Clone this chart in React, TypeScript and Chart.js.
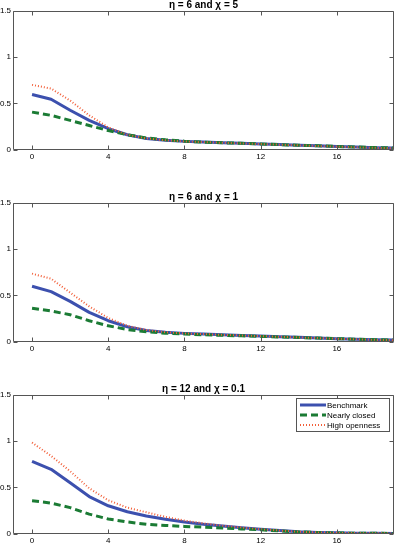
import React, { useEffect, useRef } from "react";
import { Chart, registerables } from "chart.js";

Chart.register(...registerables);

const steps = [0, 1, 2, 3, 4, 5, 6, 7, 8, 9, 10, 11, 12, 13, 14, 15, 16, 17, 18, 19];
const xTickValues = [0, 4, 8, 12, 16];
const yTickValues = [0, 0.5, 1, 1.5];
const panelTitles = ["η = 6 and χ = 5", "η = 6 and χ = 1", "η = 12 and χ = 0.1"];
const seriesNames = ["Benchmark", "Nearly closed", "High openness"];

// Panel 1: eta = 6, chi = 5
const benchmark1 = [0.595, 0.545, 0.425, 0.315, 0.225, 0.16, 0.12, 0.1, 0.088, 0.08, 0.073, 0.067, 0.06, 0.053, 0.046, 0.04, 0.033, 0.026, 0.02, 0.016];
const closed1 = [0.405, 0.37, 0.315, 0.26, 0.205, 0.16, 0.125, 0.105, 0.09, 0.08, 0.073, 0.067, 0.06, 0.053, 0.046, 0.04, 0.033, 0.027, 0.021, 0.017];
const open1 = [0.7, 0.66, 0.53, 0.37, 0.24, 0.16, 0.12, 0.1, 0.087, 0.08, 0.073, 0.066, 0.059, 0.052, 0.045, 0.038, 0.031, 0.024, 0.018, 0.014];

// Panel 2: eta = 6, chi = 1
const benchmark2 = [0.598, 0.54, 0.435, 0.315, 0.225, 0.16, 0.12, 0.1, 0.088, 0.08, 0.073, 0.066, 0.059, 0.052, 0.045, 0.038, 0.031, 0.025, 0.02, 0.015];
const closed2 = [0.36, 0.33, 0.29, 0.225, 0.17, 0.13, 0.105, 0.09, 0.08, 0.073, 0.067, 0.061, 0.055, 0.049, 0.043, 0.037, 0.031, 0.025, 0.02, 0.016];
const open2 = [0.735, 0.68, 0.53, 0.38, 0.255, 0.17, 0.125, 0.1, 0.088, 0.08, 0.072, 0.065, 0.058, 0.051, 0.044, 0.037, 0.03, 0.024, 0.018, 0.014];

// Panel 3: eta = 12, chi = 0.1
const benchmark3 = [0.78, 0.695, 0.55, 0.4, 0.3, 0.235, 0.19, 0.155, 0.125, 0.1, 0.08, 0.062, 0.047, 0.033, 0.02, 0.012, 0.007, 0.004, 0.002, 0.001];
const closed3 = [0.355, 0.33, 0.28, 0.21, 0.157, 0.125, 0.1, 0.087, 0.077, 0.068, 0.06, 0.05, 0.04, 0.028, 0.017, 0.01, 0.005, 0.003, 0.002, 0.001];
const open3 = [0.985, 0.84, 0.675, 0.49, 0.36, 0.28, 0.23, 0.18, 0.14, 0.11, 0.085, 0.065, 0.047, 0.032, 0.02, 0.012, 0.007, 0.004, 0.002, 0.001];

const panelSeries = [
  [benchmark1, closed1, open1],
  [benchmark2, closed2, open2],
  [benchmark3, closed3, open3],
];

const CANVAS_W = 394;
const CANVAS_H = 161;
const panelTops = [0, 192, 384];

const styles = [
  { color: "#3c50ae", width: 3, dash: [] as number[], order: 2 },
  { color: "#1b7b34", width: 3, dash: [7, 4], order: 1 },
  { color: "#f2603a", width: 2, dash: [1, 2], order: 0 },
];

const FONT = "Arial, 'Liberation Sans', sans-serif";

const framePlugin = {
  id: "matlabFrame",
  afterDatasetsDraw(chart: any) {
    const { ctx, chartArea, scales } = chart;
    const l = Math.round(chartArea.left) + 0.5;
    const r = Math.round(chartArea.right) - 0.5;
    const t = Math.round(chartArea.top) + 0.5;
    const b = Math.round(chartArea.bottom) - 0.5;
    ctx.save();
    ctx.strokeStyle = "#555";
    ctx.lineWidth = 1;
    ctx.beginPath();
    ctx.moveTo(l, t);
    ctx.lineTo(r, t);
    ctx.lineTo(r, b);
    ctx.lineTo(l, b);
    ctx.closePath();
    const tl = 4;
    for (const v of xTickValues) {
      const px = Math.round(scales.x.getPixelForValue(v)) + 0.5;
      ctx.moveTo(px, b);
      ctx.lineTo(px, b - tl);
      ctx.moveTo(px, t);
      ctx.lineTo(px, t + tl);
    }
    for (const v of yTickValues) {
      const py = Math.round(scales.y.getPixelForValue(v)) + 0.5;
      ctx.moveTo(l, py);
      ctx.lineTo(l + tl, py);
      ctx.moveTo(r, py);
      ctx.lineTo(r - tl, py);
    }
    ctx.stroke();
    ctx.restore();
  },
};

const titlePlugin = {
  id: "panelTitle",
  afterDraw(chart: any, _args: any, opts: any) {
    const { ctx, chartArea } = chart;
    ctx.save();
    ctx.fillStyle = "#000";
    ctx.font = `bold 10px ${FONT}`;
    ctx.textAlign = "center";
    ctx.textBaseline = "middle";
    ctx.fillText(opts.text, (chartArea.left + chartArea.right) / 2, 5);
    ctx.restore();
  },
};

const legendPlugin = {
  id: "boxLegend",
  afterDraw(chart: any, _args: any, opts: any) {
    if (!opts || !opts.show) return;
    const { ctx, chartArea } = chart;
    const w = 93;
    const h = 33;
    const x0 = Math.round(chartArea.right) - 5 - w;
    const y0 = Math.round(chartArea.top) + 3;
    ctx.save();
    ctx.fillStyle = "#fff";
    ctx.fillRect(x0, y0, w, h);
    ctx.strokeStyle = "#555";
    ctx.lineWidth = 1;
    ctx.strokeRect(x0 + 0.5, y0 + 0.5, w, h);
    chart.data.datasets.forEach((ds: any, i: number) => {
      const yy = y0 + 7 + i * 10;
      ctx.save();
      ctx.strokeStyle = ds.borderColor;
      ctx.lineWidth = ds.borderWidth;
      ctx.setLineDash(ds.borderDash || []);
      ctx.beginPath();
      ctx.moveTo(x0 + 4, yy);
      ctx.lineTo(x0 + 30, yy);
      ctx.stroke();
      ctx.restore();
      ctx.fillStyle = "#000";
      ctx.font = `8px ${FONT}`;
      ctx.textAlign = "left";
      ctx.textBaseline = "middle";
      ctx.fillText(ds.label, x0 + 31, yy + 0.5);
    });
    ctx.restore();
  },
};

function Panel({ index }: { index: number }) {
  const ref = useRef<HTMLCanvasElement | null>(null);
  useEffect(() => {
    if (!ref.current) return;
    const series = panelSeries[index];
    const chart = new Chart(ref.current, {
      type: "line",
      data: {
        datasets: series.map((vals, i) => ({
          label: seriesNames[i],
          data: steps.map((s, k) => ({ x: s, y: vals[k] })),
          borderColor: styles[i].color,
          backgroundColor: styles[i].color,
          borderWidth: styles[i].width,
          borderDash: styles[i].dash,
          borderJoinStyle: "round",
          pointRadius: 0,
          tension: 0,
          fill: false,
          order: styles[i].order,
        })),
      },
      options: {
        responsive: false,
        animation: false,
        devicePixelRatio: 1,
        layout: { padding: { top: 11, left: 0, right: 0, bottom: 0 } },
        plugins: {
          legend: { display: false },
          tooltip: { enabled: false },
          title: { display: false },
          panelTitle: { text: panelTitles[index] },
          boxLegend: { show: index === 2 },
        } as any,
        scales: {
          x: {
            type: "linear",
            min: -1,
            max: 19,
            grid: { display: false, drawTicks: false },
            border: { display: false },
            ticks: {
              padding: 2,
              color: "#000",
              font: { family: FONT, size: 8 },
              maxRotation: 0,
              autoSkip: false,
              callback: (v: any) => String(v),
            },
            afterBuildTicks: (s: any) => {
              s.ticks = xTickValues.map((v) => ({ value: v }));
            },
            afterFit: (s: any) => {
              s.height = 11.5;
              s.paddingLeft = 0;
              s.paddingRight = 0;
            },
          },
          y: {
            type: "linear",
            min: 0,
            max: 1.5,
            grid: { display: false, drawTicks: false },
            border: { display: false },
            ticks: {
              padding: 2,
              color: "#000",
              font: { family: FONT, size: 8 },
              autoSkip: false,
              callback: (v: any) => String(v),
            },
            afterBuildTicks: (s: any) => {
              s.ticks = yTickValues.map((v) => ({ value: v }));
            },
            afterFit: (s: any) => {
              s.width = 13;
              s.paddingTop = 0;
              s.paddingBottom = 0;
            },
          },
        },
      } as any,
      plugins: [framePlugin, titlePlugin, legendPlugin],
    });
    return () => chart.destroy();
  }, [index]);
  return (
    <canvas
      ref={ref}
      width={CANVAS_W}
      height={CANVAS_H}
      style={{ position: "absolute", left: 0, top: panelTops[index], width: CANVAS_W, height: CANVAS_H }}
    />
  );
}

export default function App() {
  return (
    <div style={{ position: "absolute", left: 0, top: 0, width: CANVAS_W, height: 545, background: "#fff" }}>
      <Panel index={0} />
      <Panel index={1} />
      <Panel index={2} />
    </div>
  );
}
